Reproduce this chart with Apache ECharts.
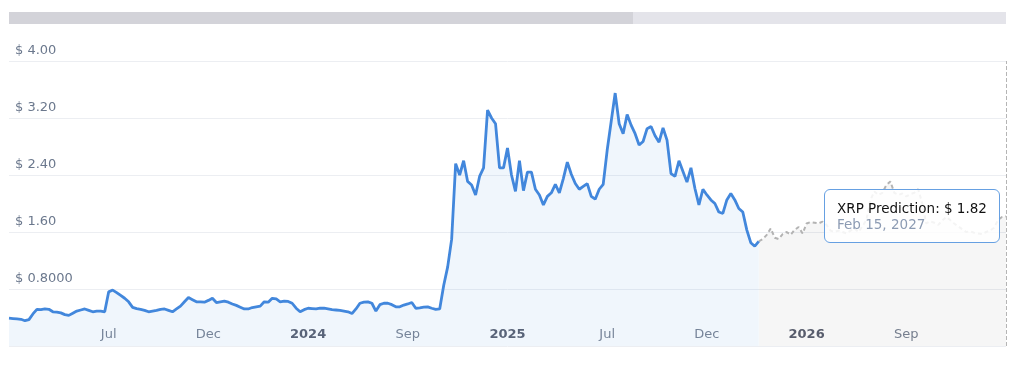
<!DOCTYPE html>
<html>
<head>
<meta charset="utf-8">
<script src="https://cdn.jsdelivr.net/npm/echarts/dist/echarts.min.js"></script>
<style>
  html, body { margin: 0; padding: 0; background: #ffffff; }
  #chart { width: 1024px; height: 366px; }
</style>
</head>
<body>
<div id="chart"></div>
<script>
// ---- data ----
const tickLabels = ['Jul', 'Dec', '2024', 'Sep', '2025', 'Jul', 'Dec', '2026', 'Sep'];
const yTicks = [0.8, 1.6, 2.4, 3.2, 4.0];
const histPrice = [
  0.39,0.385,0.38,0.375,0.355,0.37,0.45,0.515,0.51,0.52,
  0.515,0.48,0.475,0.465,0.44,0.43,0.46,0.49,0.505,0.52,
  0.5,0.48,0.49,0.49,0.48,0.76,0.785,0.75,0.71,0.67,
  0.62,0.543,0.525,0.515,0.5,0.48,0.49,0.5,0.515,0.52,
  0.5,0.48,0.52,0.56,0.62,0.68,0.65,0.62,0.62,0.615,
  0.64,0.67,0.61,0.62,0.63,0.615,0.59,0.57,0.545,0.52,
  0.52,0.54,0.55,0.56,0.62,0.615,0.67,0.66,0.62,0.63,
  0.625,0.6,0.53,0.48,0.51,0.53,0.525,0.52,0.53,0.53,
  0.52,0.51,0.505,0.5,0.49,0.48,0.455,0.52,0.6,0.615,
  0.62,0.6,0.49,0.58,0.6,0.6,0.58,0.55,0.55,0.575,
  0.59,0.61,0.53,0.535,0.545,0.55,0.53,0.515,0.52,0.85,
  1.11,1.5,2.56,2.4,2.6,2.31,2.26,2.12,2.38,2.5,
  3.31,3.2,3.12,2.5,2.5,2.78,2.4,2.17,2.6,2.18,
  2.44,2.44,2.2,2.12,1.98,2.1,2.15,2.27,2.15,2.35,
  2.58,2.41,2.28,2.2,2.24,2.28,2.1,2.06,2.2,2.27,
  2.75,3.15,3.55,3.12,2.98,3.25,3.1,2.98,2.82,2.87,
  3.05,3.08,2.95,2.86,3.06,2.89,2.42,2.38,2.6,2.45,
  2.3,2.5,2.21,1.98,2.2,2.12,2.05,2.0,1.88,1.86,
  2.05,2.14,2.05,1.93,1.88,1.63,1.45,1.4,1.47
];
const predPrice = [
  1.47,1.5,1.56,1.65,1.52,1.5,1.57,1.6,1.56,1.63,
  1.67,1.58,1.72,1.74,1.73,1.72,1.745,1.7,1.62,1.6,
  1.62,1.6,1.58,1.62,1.65,1.6,1.68,1.77,2.05,2.17,
  2.12,2.15,2.26,2.31,2.15,2.12,2.14,2.1,2.13,2.15,
  2.2,2.0,1.72,1.75,1.73,1.7,1.76,1.81,1.77,1.72,
  1.68,1.64,1.6,1.61,1.59,1.58,1.57,1.6,1.62,1.66,
  1.77,1.81,1.82
];
const predictionLabel = 'XRP Prediction';
const lastDate = 'Feb 15, 2027';

// ---- build series ----
const predStart = histPrice.length - 1;
const total = predStart + predPrice.length;
const categories = Array.from({ length: total }, (_, i) => String(i));
const labelEvery = (total - 1) / (tickLabels.length + 1);
const histData = histPrice.map((v, i) => [i, v]);
const predData = predPrice.map((v, i) => [predStart + i, v]);

const chart = echarts.init(document.getElementById('chart'), null, { renderer: 'canvas' });

function yFmt(v) {
  return '$ ' + (v < 1 ? v.toFixed(4) : v.toFixed(2));
}

chart.setOption({
  animation: false,
  textStyle: { fontFamily: 'DejaVu Sans' },
  grid: { left: 9, right: 18, top: 61, bottom: 20, containLabel: false },
  graphic: [
    { type: 'rect', left: 9, top: 12, shape: { width: 997, height: 12 }, style: { fill: '#e4e4ea' }, silent: true },
    { type: 'rect', left: 9, top: 12, shape: { width: 624, height: 12 }, style: { fill: '#d3d3d9' }, silent: true }
  ],
  xAxis: {
    type: 'category',
    data: categories,
    boundaryGap: false,
    axisLine: { show: false },
    axisTick: { show: false },
    splitLine: { show: false },
    axisLabel: {
      show: true,
      inside: true,
      margin: 5,
      fontSize: 13,
      color: '#7b8494',
      fontFamily: 'DejaVu Sans',
      hideOverlap: false,
      showMinLabel: false,
      showMaxLabel: false,
      interval: 0,
      formatter: function (val) {
        const i = parseInt(val, 10);
        if (!(i > 0 && i < total - 1 && i % labelEvery === 0)) return '';
        const t = tickLabels[i / labelEvery - 1] || '';
        return /^\d{4}$/.test(t) ? '{y|' + t + '}' : t;
      },
      rich: { y: { fontWeight: 'bold', color: '#5c6171', fontSize: 13, fontFamily: 'DejaVu Sans' } }
    }
  },
  yAxis: {
    type: 'value',
    min: 0,
    max: yTicks[yTicks.length - 1],
    interval: yTicks[0],
    axisLine: { show: false },
    axisTick: { show: false },
    splitLine: { lineStyle: { color: '#eceef2', width: 1 } },
    axisLabel: {
      inside: true,
      showMinLabel: false,
      margin: 6,
      fontSize: 13,
      color: '#6b788d',
      fontFamily: 'DejaVu Sans',
      verticalAlign: 'bottom',
      padding: [0, 0, 4, 0],
      formatter: yFmt
    }
  },
  tooltip: {
    trigger: 'axis',
    alwaysShowContent: true,
    transitionDuration: 0,
    backgroundColor: 'rgba(255,255,255,0.85)',
    borderColor: '#66a0e2',
    borderWidth: 1.5,
    borderRadius: 6,
    padding: [10, 12],
    extraCssText: 'box-shadow:none;',
    textStyle: { fontFamily: 'DejaVu Sans', fontSize: 13.5, color: '#111' },
    axisPointer: {
      type: 'line',
      lineStyle: { color: '#b5b5b5', type: 'dashed', width: 1 },
      label: { show: false }
    },
    position: function (point, params, dom, rect, size) {
      return [point[0] - size.contentSize[0] - 6, point[1] - size.contentSize[1] / 2];
    },
    formatter: function (params) {
      const p = params.find(function (q) { return q.seriesIndex === 1; });
      if (!p) return '';
      const v = Array.isArray(p.value) ? p.value[1] : p.value;
      return '<div style="line-height:16px;color:#111;">' + predictionLabel + ': $ ' + Number(v).toFixed(2) + '</div>' +
             '<div style="line-height:16px;color:#8c9bb3;">' + lastDate + '</div>';
    }
  },
  series: [
    {
      name: 'XRP',
      type: 'line',
      data: histData,
      showSymbol: false,
      symbol: 'none',
      lineStyle: { color: '#4287dc', width: 2.8 },
      itemStyle: { color: '#4287dc' },
      areaStyle: { color: 'rgba(70,137,221,0.11)' },
      z: 3
    },
    {
      name: predictionLabel,
      type: 'line',
      data: predData,
      showSymbol: false,
      symbol: 'none',
      lineStyle: { color: '#a3a3a3', width: 2, type: [4, 3] },
      itemStyle: { color: '#a3a3a3' },
      areaStyle: { color: 'rgba(0,0,0,0.05)' },
      z: 2
    }
  ]
});

chart.dispatchAction({ type: 'showTip', seriesIndex: 1, dataIndex: predPrice.length - 1 });
</script>
</body>
</html>
